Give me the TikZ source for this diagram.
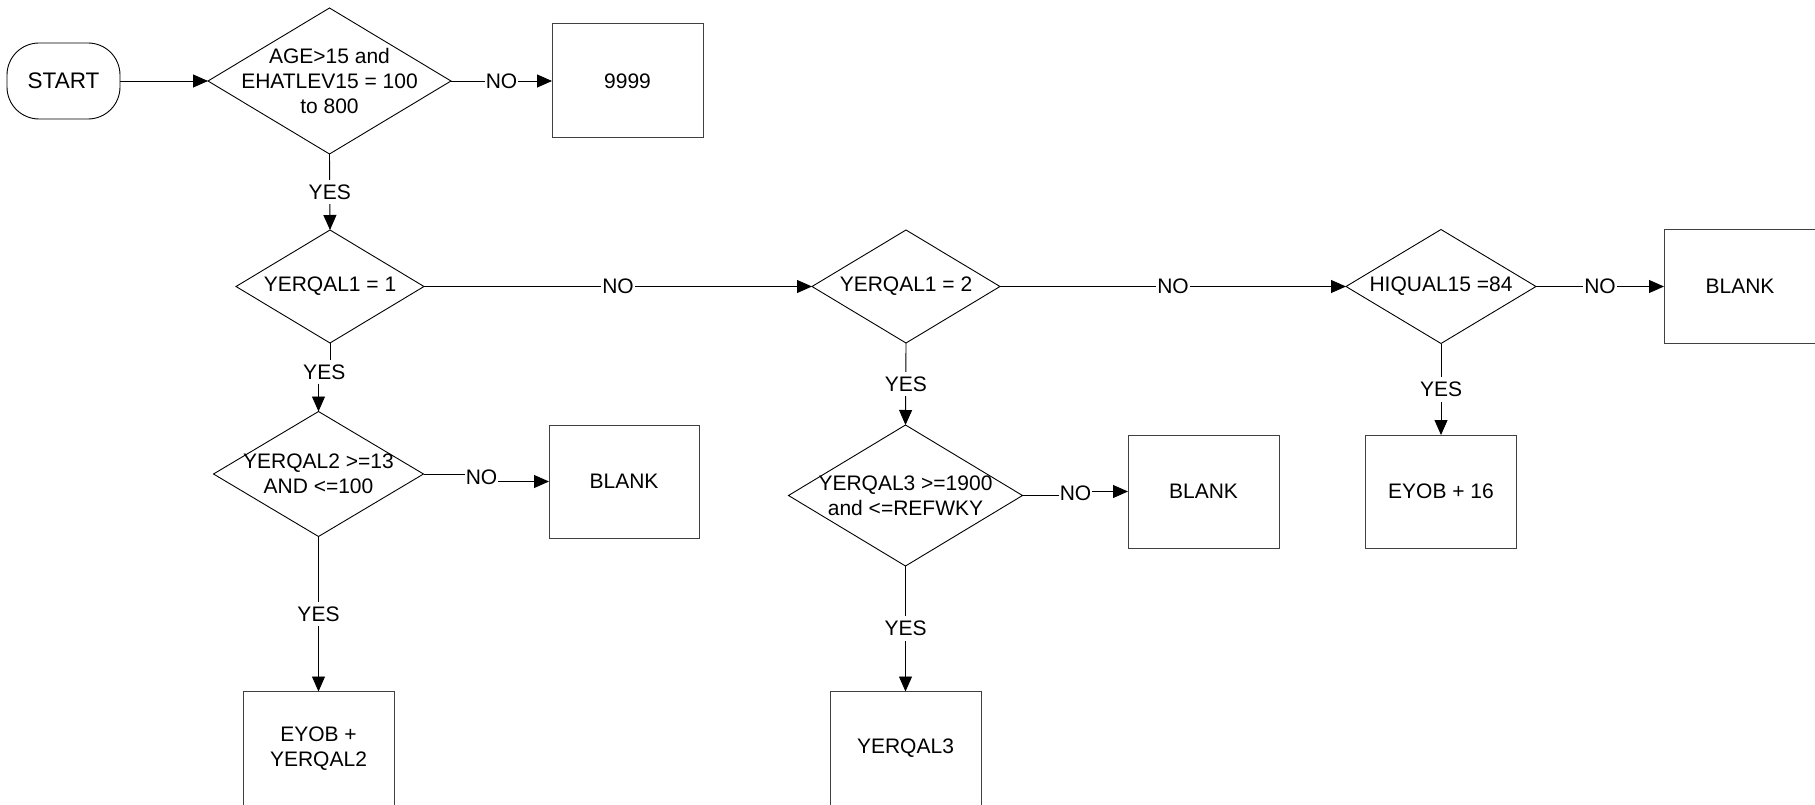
\documentclass[tikz,border=0pt]{standalone}
\usepackage{fontspec}
\setmainfont{Liberation Sans}
\usetikzlibrary{shapes.geometric,arrows.meta}
\begin{document}
\begin{tikzpicture}[x=1pt,y=-1pt,
  every node/.style={font=\fontsize{21}{25}\selectfont},
  dia/.style={draw=black, diamond, inner sep=0pt, outer sep=0pt, line width=0.9pt},
  box/.style={draw=black!75, rectangle, inner sep=0pt, outer sep=0pt, line width=1pt, align=center,
              minimum width=151pt, minimum height=113pt},
  startbox/.style={draw=black, rectangle, rounded corners=32pt, inner sep=0pt, outer sep=0pt,
              line width=0.9pt, minimum width=113pt, minimum height=76pt, font=\fontsize{22.5}{26}\selectfont},
  txt/.style={align=center, inner sep=0pt},
  lbl/.style={fill=white, inner xsep=1pt, inner ysep=5pt},
  conn/.style={line width=0.9pt, -{Triangle[length=15pt,width=13pt]}},
]
\useasboundingbox (0,0) rectangle (1815,805);

% nodes
\node[startbox] (start) at (63.5,81) {START};

\node[dia, minimum width=243pt, minimum height=146pt] (d1) at (329.5,81) {};
\node[txt] (t1) at (d1.center) {AGE>15 and\\EHATLEV15 = 100\\to 800};

\node[box, minimum height=114pt] (b9999) at (627.5,81) {9999};

\node[dia, minimum width=188pt, minimum height=113pt] (d2) at (330,286.5) {};
\node[txt] (t2) at (d2.center) {YERQAL1 = 1};

\node[dia, minimum width=188pt, minimum height=113pt] (d3) at (906,286.5) {};
\node[txt] (t3) at (d3.center) {YERQAL1 = 2};

\node[dia, minimum width=190pt, minimum height=114pt] (d4) at (1441,286.5) {};
\node[txt] (t4) at (d4.center) {HIQUAL15 =84};

\node[box, minimum width=152pt, minimum height=114pt] (blankR) at (1740,286.5) {BLANK};

\node[dia, minimum width=210pt, minimum height=125pt] (d5) at (318.5,474) {};
\node[txt] (t5) at (d5.center) {YERQAL2 >=13\\AND <=100};

\node[box, minimum width=150pt] (blank1) at (624,481.5) {BLANK};

\node[box, minimum height=114pt] (eyob2) at (318.5,748.5) {EYOB +\\YERQAL2};

\node[dia, minimum width=234pt, minimum height=141pt] (d6) at (905.5,495.5) {};
\node[txt] (t6) at (d6.center) {YERQAL3 >=1900\\and <=REFWKY};

\node[box] (blank2) at (1203.5,491.5) {BLANK};

\node[box, minimum height=114pt] (yq3) at (905.5,748.5) {YERQAL3};

\node[box] (eyob16) at (1441,491.5) {EYOB + 16};

% connectors
\draw[conn] (start.east) -- (d1.west);
\draw[conn] (d1.east) -- node[lbl] {NO} (b9999.west);
\draw[conn] (d1.south) -- node[lbl] {YES} (d2.north);
\draw[conn] (d2.east) -- node[lbl] {NO} (d3.west);
\draw[conn] (d3.east) -- node[lbl] {NO} (d4.west);
\draw[conn] (d4.east) -- node[lbl] {NO} (blankR.west);

\draw[conn] (d2.south) -- ++(0,29) -| node[lbl, pos=0.25] {YES} (d5.north);
\draw[conn] (d5.east) -- ++(58,0) |- node[lbl, pos=0.25] {NO} (blank1.west);
\draw[conn] (d5.south) -- node[lbl] {YES} (eyob2.north);

\draw[conn] (d3.south) -- node[lbl] {YES} (d6.north);
\draw[conn] (d6.east) -- ++(53,0) |- node[lbl, pos=0.25] {NO} (blank2.west);
\draw[conn] (d6.south) -- node[lbl] {YES} (yq3.north);

\draw[conn] (d4.south) -- node[lbl] {YES} (eyob16.north);
\end{tikzpicture}
\end{document}
